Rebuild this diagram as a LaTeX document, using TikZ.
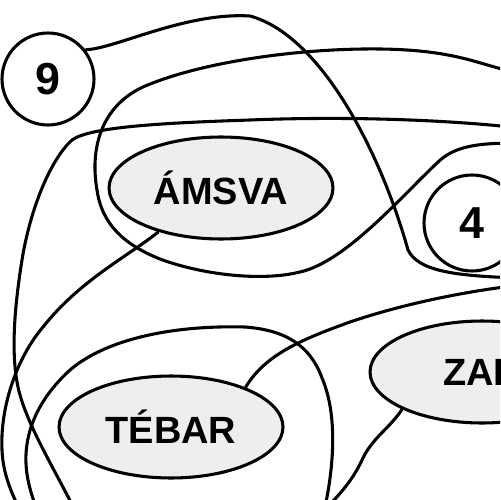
\documentclass[tikz,border=0pt]{standalone}
\usepackage{fontspec}
\setmainfont{Liberation Sans}
\usetikzlibrary{shapes}

\definecolor{placefill}{HTML}{EEEEEE}
\tikzset{
  place/.style={ellipse,draw,line width=1.75pt,fill=placefill,minimum width=4.48cm,minimum height=2.04cm,inner sep=0pt,font=\fontsize{21.6}{21.6}\selectfont\bfseries},
  num/.style={circle,draw,line width=1.75pt,fill=white,inner sep=0pt,font=\fontsize{25.5}{25.5}\selectfont\bfseries},
  link/.style={line width=1.75pt}
}

\begin{document}
\begin{tikzpicture}[x=0.02cm,y=-0.02cm]
\useasboundingbox (0,0) rectangle (500,500);
\clip (0,0) rectangle (500,500);

% places and numbers
\node[num,minimum size=1.84cm] (n9) at (48,79) {9};
\node[num,minimum size=1.92cm] (n4) at (472,223) {4};
\node[place] (amsva) at (221,188) {ÁMSVA};
\node[place] (tebar) at (171,427) {TÉBAR};
\node[place] (zak) at (482,372) {ZAK};

% free ends outside the frame
\coordinate (a1) at (520,278);
\coordinate (b1) at (520,73);
\coordinate (b2) at (520,143);
\coordinate (c1) at (520,128);
\coordinate (c2) at (80,520);
\coordinate (d1) at (25,520);
\coordinate (e1) at (322,520);
\coordinate (e2) at (42,520);
\coordinate (f1) at (520,285);
\coordinate (g1) at (318,516);

% links
\draw[link] (n9.38) .. controls (115,49) and (185,12) .. (250,16)
  .. controls (320,35) and (380,150) .. (408,250)
  .. controls (418,270) and (450,276) .. (a1);
\draw[link] (b1) .. controls (480,66) and (460,50) .. (380,49)
  .. controls (300,48) and (200,62) .. (143,87)
  .. controls (100,107) and (90,150) .. (97,190)
  .. controls (102,225) and (125,245) .. (160,259)
  .. controls (200,274) and (260,282) .. (300,272)
  .. controls (345,262) and (400,198) .. (437,163)
  .. controls (455,145) and (480,143) .. (b2);
\draw[link] (c1) .. controls (450,120) and (350,116) .. (250,120)
  .. controls (160,123) and (90,127) .. (72,140)
  .. controls (50,160) and (30,210) .. (22,260)
  .. controls (14,310) and (10,360) .. (20,395)
  .. controls (30,430) and (55,470) .. (c2);
\draw[link] (amsva.215) .. controls (130,255) and (80,280) .. (43,327)
  .. controls (15,360) and (0,410) .. (2,450)
  .. controls (3,475) and (12,495) .. (d1);
\draw[link] (e1) .. controls (332,480) and (340,420) .. (322,378)
  .. controls (310,345) and (285,330) .. (245,327)
  .. controls (170,325) and (105,340) .. (70,370)
  .. controls (35,402) and (20,440) .. (28,480)
  .. controls (31,495) and (36,508) .. (e2);
\draw[link] (tebar.28) .. controls (265,355) and (300,340) .. (350,322)
  .. controls (400,305) and (460,292) .. (f1);
\draw[link] (zak.205) .. controls (390,428) and (372,438) .. (362,460)
  .. controls (352,482) and (335,500) .. (g1);
\end{tikzpicture}
\end{document}
